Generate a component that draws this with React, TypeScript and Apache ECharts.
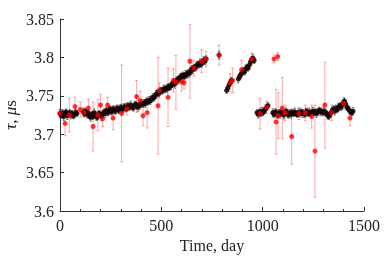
import React, { useEffect, useRef } from "react";
import * as echarts from "echarts";

// Black series: [day, tau, error]
const blackDays: number[] = [
  0, 6, 12, 18, 24, 30, 36, 42, 48, 54, 60, 66, 72, 78, 84,
  115, 121, 127, 133, 139, 145, 151, 157, 163, 169, 175, 181, 187, 193, 199,
  205, 211, 217, 223, 229, 235, 241, 247, 253, 259, 265, 271, 277, 283, 289,
  295, 301, 307, 313, 319, 325, 331, 337, 343, 349, 355, 361, 367, 373, 379,
  385, 391, 397, 403, 409, 415, 421, 427, 433, 439, 445, 451, 457, 463, 469,
  475, 481, 487, 493, 499, 505, 511, 517, 523, 529, 535, 541, 547, 553, 559,
  565, 571, 577, 583, 589, 595, 601, 607, 613, 619, 625, 631, 637, 643, 649,
  655, 661, 667, 673, 679, 685, 691, 697, 703, 709, 715, 721, 785,
  822, 828, 834, 840, 846, 880, 886, 892, 898, 904, 910, 916, 922, 928, 934, 940, 946, 952, 958,
  972, 978, 984, 990, 996, 1002, 1008, 1014, 1020, 1026,
  1050, 1056, 1062, 1068, 1074, 1080, 1086, 1092, 1098, 1104, 1110, 1116, 1122, 1128, 1134,
  1140, 1146, 1152, 1158, 1164, 1170, 1176, 1182, 1188, 1194, 1200, 1206, 1212, 1218, 1224,
  1230, 1236, 1242, 1248, 1254, 1260, 1266, 1272, 1278, 1284, 1290, 1296, 1302, 1308, 1314,
  1320, 1326, 1332, 1338, 1344, 1350, 1356, 1362, 1368, 1374, 1380, 1386, 1392, 1398, 1404,
  1410, 1416, 1422, 1428, 1434, 1440, 1446,
];
const blackTau: number[] = [
  3.727, 3.725, 3.728, 3.723, 3.727, 3.729, 3.724, 3.726, 3.728, 3.725, 3.727, 3.724, 3.726, 3.728, 3.727,
  3.729, 3.727, 3.730, 3.726, 3.728, 3.724, 3.722, 3.726, 3.723, 3.728, 3.725, 3.722, 3.724, 3.727, 3.725,
  3.723, 3.726, 3.729, 3.727, 3.731, 3.728, 3.730, 3.733, 3.729, 3.731, 3.733, 3.730, 3.732, 3.734, 3.731,
  3.733, 3.735, 3.732, 3.734, 3.736, 3.733, 3.735, 3.737, 3.735, 3.738, 3.736, 3.734, 3.737, 3.739, 3.737,
  3.735, 3.738, 3.739, 3.740, 3.739, 3.741, 3.740, 3.743, 3.742, 3.744, 3.743, 3.746, 3.748, 3.747, 3.750,
  3.752, 3.754, 3.753, 3.756, 3.757, 3.756, 3.759, 3.758, 3.760, 3.759, 3.762, 3.761, 3.763, 3.765, 3.767,
  3.765, 3.768, 3.771, 3.770, 3.773, 3.775, 3.774, 3.777, 3.775, 3.778, 3.777, 3.780, 3.779, 3.781, 3.785,
  3.784, 3.787, 3.786, 3.789, 3.791, 3.790, 3.793, 3.791, 3.794, 3.796, 3.795, 3.798, 3.803,
  3.757, 3.760, 3.764, 3.767, 3.770, 3.772, 3.775, 3.778, 3.780, 3.783, 3.781, 3.785, 3.787, 3.786, 3.790, 3.794, 3.797, 3.799, 3.796,
  3.728, 3.726, 3.729, 3.727, 3.730, 3.728, 3.731, 3.733, 3.735, 3.737,
  3.728, 3.726, 3.729, 3.727, 3.725, 3.728, 3.726, 3.729, 3.727, 3.725, 3.728, 3.730, 3.727, 3.725, 3.728,
  3.726, 3.728, 3.727, 3.729, 3.727, 3.726, 3.728, 3.727, 3.729, 3.727, 3.728, 3.726, 3.728, 3.730, 3.727,
  3.729, 3.727, 3.728, 3.730, 3.728, 3.729, 3.727, 3.729, 3.731, 3.729, 3.730, 3.728, 3.730, 3.729, 3.727,
  3.725, 3.723, 3.726, 3.728, 3.731, 3.733, 3.730, 3.734, 3.732, 3.735, 3.737, 3.735, 3.738, 3.741, 3.743,
  3.739, 3.735, 3.733, 3.731, 3.729, 3.728, 3.730,
];
const blackErr: number[] = blackDays.map((d, i) => (i % 3 === 0 ? 0.005 : 0.004));

// Red series
const redDays: number[] = [
  0, 25, 46, 74, 100, 118, 140, 163, 187, 200, 210, 235, 262, 304, 330, 378, 395, 410, 430,
  484, 490, 533, 560, 572, 600, 612, 641, 660, 699, 720, 785,
  839, 852, 896, 946, 987, 1020, 1056, 1066, 1074, 1077, 1097, 1110, 1143, 1180, 1210,
  1242, 1258, 1307, 1340, 1400, 1431,
];
const redTau: number[] = [
  3.727, 3.714, 3.725, 3.736, 3.732, 3.728, 3.734, 3.710, 3.725, 3.738, 3.720, 3.738, 3.721, 3.727, 3.733, 3.749, 3.744, 3.724, 3.728,
  3.737, 3.757, 3.748, 3.770, 3.768, 3.768, 3.767, 3.795, 3.786, 3.795, 3.798, 3.803,
  3.767, 3.770, 3.784, 3.798, 3.727, 3.735, 3.798, 3.716, 3.801, 3.724, 3.734, 3.728, 3.697, 3.727, 3.728,
  3.723, 3.678, 3.738, 3.728, 3.740, 3.721,
];
const redErr: number[] = [
  0.006, 0.016, 0.022, 0.012, 0.010, 0.006, 0.012, 0.032, 0.020, 0.014, 0.010, 0.010, 0.015, 0.063, 0.008, 0.021, 0.012, 0.013, 0.020,
  0.063, 0.010, 0.038, 0.015, 0.035, 0.012, 0.008, 0.048, 0.010, 0.015, 0.010, 0.013,
  0.012, 0.016, 0.012, 0.008, 0.020, 0.008, 0.005, 0.042, 0.005, 0.030, 0.040, 0.010, 0.036, 0.008, 0.010,
  0.015, 0.060, 0.056, 0.010, 0.008, 0.010,
];

const xTicks = [0, 500, 1000, 1500];
const yTicks = [3.6, 3.65, 3.7, 3.75, 3.8, 3.85];

const FONT = "Liberation Serif";

function errBar(color: string, width: number, cap: number) {
  return (params: any, api: any) => {
    const x = api.value(0);
    const lo = api.coord([x, api.value(1) - api.value(2)]);
    const hi = api.coord([x, api.value(1) + api.value(2)]);
    const st = { stroke: color, lineWidth: width };
    return {
      type: "group",
      children: [
        { type: "line", shape: { x1: lo[0], y1: lo[1], x2: hi[0], y2: hi[1] }, style: st },
        { type: "line", shape: { x1: lo[0] - cap, y1: lo[1], x2: lo[0] + cap, y2: lo[1] }, style: st },
        { type: "line", shape: { x1: hi[0] - cap, y1: hi[1], x2: hi[0] + cap, y2: hi[1] }, style: st },
      ],
    };
  };
}

export default function App() {
  const ref = useRef<HTMLDivElement>(null);
  useEffect(() => {
    if (!ref.current) return;
    const chart = echarts.init(ref.current, undefined, { renderer: "svg" });
    const black = blackDays.map((d, i) => [d, blackTau[i], blackErr[i]]);
    const red = redDays.map((d, i) => [d, redTau[i], redErr[i]]);
    chart.setOption({
      animation: false,
      textStyle: { fontFamily: FONT },
      grid: { left: 60, right: 27, top: 19, bottom: 48, outerBoundsMode: "none", containLabel: false },
      xAxis: {
        type: "value",
        min: xTicks[0],
        max: xTicks[xTicks.length - 1],
        interval: 500,
        name: "Time, day",
        nameLocation: "middle",
        nameGap: 25,
        nameTextStyle: { fontFamily: FONT, fontSize: 16, color: "#222" },
        axisLine: { show: true, lineStyle: { color: "#333", width: 1 } },
        axisTick: { show: true, inside: true, length: 4, lineStyle: { color: "#333" } },
        minorTick: { show: true, splitNumber: 5, length: 2, lineStyle: { color: "#333" } },
        axisLabel: {
          fontFamily: FONT,
          fontSize: 16,
          color: "#222",
          margin: 6,
          formatter: (v: number) => String(v),
        },
        splitLine: { show: false },
      },
      yAxis: {
        type: "value",
        min: yTicks[0],
        max: yTicks[yTicks.length - 1],
        interval: 0.05,
        name: "{i|τ}{n|, }{i|μ}{n|s}",
        nameLocation: "middle",
        nameGap: 41,
        nameRotate: 90,
        nameMoveOverlap: false,
        nameTextStyle: {
          fontFamily: FONT,
          fontSize: 17,
          color: "#222",
          rich: {
            i: { fontFamily: FONT, fontSize: 17, fontStyle: "italic", color: "#222" },
            n: { fontFamily: FONT, fontSize: 17, color: "#222" },
          },
        },
        axisLine: { show: true, lineStyle: { color: "#333", width: 1 } },
        axisTick: { show: true, inside: true, length: 4, lineStyle: { color: "#333" } },
        axisLabel: {
          fontFamily: FONT,
          fontSize: 16,
          color: "#222",
          margin: 6,
          formatter: (v: number) => String(parseFloat(v.toFixed(2))),
        },
        splitLine: { show: false },
      },
      series: [
        {
          type: "custom",
          renderItem: errBar("rgba(255,60,60,0.45)", 1, 1.5),
          data: red,
          encode: { x: 0, y: 1 },
          z: 1,
        },
        {
          type: "custom",
          renderItem: errBar("rgba(40,40,40,0.75)", 0.8, 1.2),
          data: black,
          encode: { x: 0, y: 1 },
          z: 2,
        },
        {
          type: "scatter",
          data: black,
          symbol: "circle",
          symbolSize: 5,
          itemStyle: { color: "#1a0505", opacity: 0.9 },
          z: 3,
        },
        {
          type: "scatter",
          data: red,
          symbol: "circle",
          symbolSize: 5,
          itemStyle: { color: "#ff0000" },
          z: 4,
        },
      ],
    });
    return () => chart.dispose();
  }, []);
  return (
    <div
      ref={ref}
      style={{ position: "fixed", left: 0, top: 0, width: 391, height: 259 }}
    />
  );
}
